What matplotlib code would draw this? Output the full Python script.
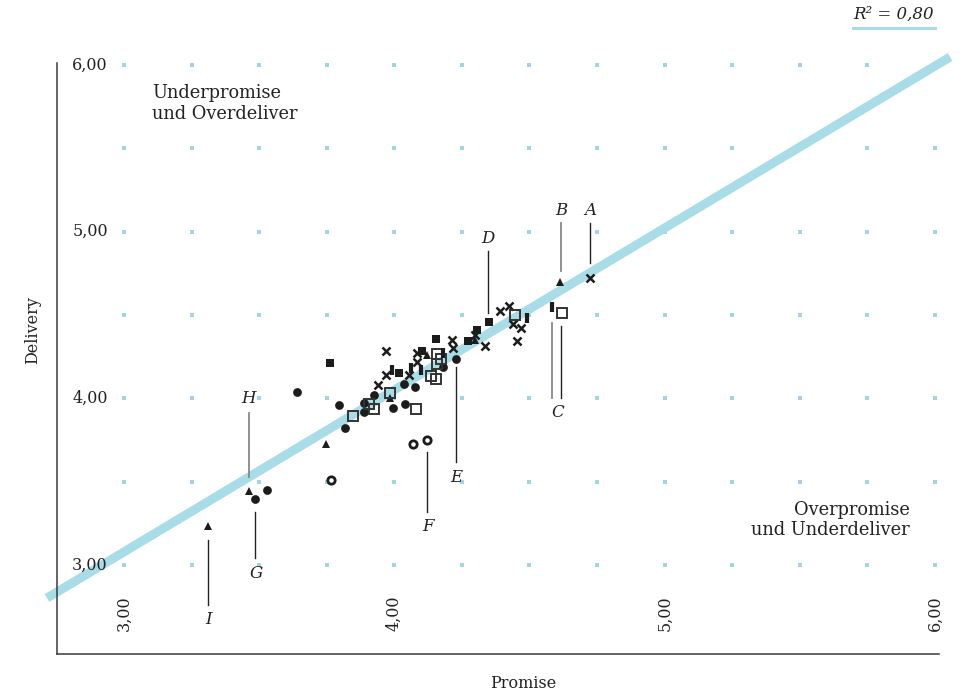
import matplotlib
matplotlib.use("Agg")
import matplotlib.pyplot as plt
import numpy as np
from matplotlib.lines import Line2D

# --- data (promise, delivery) per marker group ---
circle_x = [3.641, 3.795, 3.818, 3.887, 3.887, 3.924, 3.996, 4.041, 4.037, 4.077, 4.181, 4.228, 3.486, 3.529]
circle_y = [4.036, 3.962, 3.822, 3.970, 3.918, 4.022, 3.940, 3.968, 4.086, 4.070, 4.190, 4.239, 3.394, 3.448]

square_x = [3.762, 4.017, 4.104, 4.154, 4.274, 4.305, 4.350]
square_y = [4.210, 4.154, 4.286, 4.356, 4.344, 4.410, 4.460]

triangle_x = [3.747, 3.983, 4.120, 4.300, 4.614, 3.462, 3.311]
triangle_y = [3.724, 4.002, 4.260, 4.350, 4.700, 3.446, 3.234]

cross_x = [3.968, 3.939, 3.968, 4.054, 4.083, 4.083, 4.215, 4.218, 4.299, 4.334,
           4.391, 4.424, 4.438, 4.469, 4.453, 4.725]
cross_y = [4.286, 4.080, 4.140, 4.140, 4.220, 4.270, 4.350, 4.300, 4.380, 4.312,
           4.526, 4.555, 4.446, 4.422, 4.346, 4.724]

open_sq_x = [3.847, 3.908, 3.926, 3.985, 4.080, 4.156, 4.159, 4.173, 4.137, 4.154, 4.445, 4.619]
open_sq_y = [3.892, 3.966, 3.934, 4.030, 3.934, 4.269, 4.204, 4.239, 4.137, 4.119, 4.498, 4.512]

bar_x = [3.993, 4.060, 4.098, 4.180, 4.492, 4.585]
bar_y = [4.170, 4.180, 4.170, 4.270, 4.485, 4.550]

ring_x = [3.766, 4.068, 4.122]
ring_y = [3.510, 3.726, 3.750]

# regression line
fit_slope = 0.9716
fit_intercept = 0.164
fit_x = [2.715, 6.056]
r2_text = "R² = 0,80"

# labelled companies: name, label position, leader line (x, y0, y1), gray?
labels = ["A", "B", "D", "E", "F", "G", "H", "I"]
label_x = [4.724, 4.617, 4.347, 4.228, 4.125, 3.488, 3.459, 3.311]
label_y = [5.13, 5.13, 4.962, 3.528, 3.234, 2.952, 4.002, 2.676]
lead_x = [4.724, 4.617, 4.347, 4.229, 4.122, 3.486, 3.462, 3.311]
lead_y0 = [5.052, 5.052, 4.884, 4.190, 3.680, 3.318, 3.914, 3.150]
lead_y1 = [4.812, 4.764, 4.512, 3.618, 3.320, 3.042, 3.526, 2.760]
lead_gray = [False, True, False, False, False, False, True, False]

x_ticks = [3, 4, 5, 6]
y_ticks = [3, 4, 5, 6]

BLUE = "#a8dce6"
DOT = "#9fd6e1"
INK = "#1c1c1c"
TXT = "#222222"
FONT = "DejaVu Serif"

plt.rcParams["font.family"] = FONT

fig = plt.figure(figsize=(9.62, 6.92), dpi=100)
ax = fig.add_axes([57 / 962, 1 - 654 / 692, (939 - 57) / 962, (654 - 63) / 692])
ax.set_xlim(2.752, 6.015)
ax.set_ylim(2.466, 6.012)

for side in ["top", "right"]:
    ax.spines[side].set_visible(False)
for side in ["left", "bottom"]:
    ax.spines[side].set_color("#3a3a3a")
    ax.spines[side].set_linewidth(1.1)
ax.set_xticks([])
ax.set_yticks([])

# dotted grid
gx, gy = np.meshgrid(np.arange(3.0, 6.01, 0.25), np.arange(3.0, 6.01, 0.5))
ax.plot(gx.ravel(), gy.ravel(), "s", ms=2.2, color=DOT, mew=0, zorder=1)

# regression line
fx = np.array(fit_x)
ax.plot(fx, fit_intercept + fit_slope * fx, color=BLUE, lw=6.5,
        solid_capstyle="butt", clip_on=False, zorder=2)

# markers
ax.plot(circle_x, circle_y, "o", ms=6.3, color=INK, mew=0, zorder=4)
ax.plot(square_x, square_y, "s", ms=6.3, color=INK, mew=0, zorder=4)
ax.plot(triangle_x, triangle_y, "^", ms=6.3, color=INK, mew=0, zorder=4)
ax.plot(cross_x, cross_y, "x", ms=5.2, color=INK, mew=1.8, zorder=4)
ax.plot(open_sq_x, open_sq_y, "s", ms=6.5, mfc="none", mec="#333333", mew=1.4, zorder=4)
ax.plot(bar_x, bar_y, "|", ms=7.5, color=INK, mew=3.0, zorder=4)
ax.plot(ring_x, ring_y, "o", ms=5.3, mfc="white", mec=INK, mew=2.0, zorder=4)

# annotations
for name, tx, ty, lx, y0, y1, gray in zip(labels, label_x, label_y, lead_x,
                                          lead_y0, lead_y1, lead_gray):
    ax.text(tx, ty, name, ha="center", va="center", fontsize=12,
            style="italic", color=TXT)
    ax.plot([lx, lx], [y0, y1], color="#888888" if gray else "#222222",
            lw=1.3 if gray else 1.0, zorder=3)

# C has two leader lines
ax.text(4.606, 3.918, "C", ha="center", va="center", fontsize=12,
        style="italic", color=TXT)
ax.plot([4.585, 4.585], [4.454, 4.002], color="#888888", lw=1.3, zorder=3)
ax.plot([4.618, 4.618], [4.436, 4.002], color="#222222", lw=1.0, zorder=3)

# tick labels drawn inside the axes
for v in y_ticks:
    ax.text(2.94, v, f"{v},00", ha="right", va="center", fontsize=11.5, color=TXT)
for v in x_ticks:
    ax.text(v, 2.712, f"{v},00", ha="center", va="center", fontsize=11.5,
            rotation=90, color=TXT)

# quadrant notes
ax.text(3.103, 5.769, "Underpromise\nund Overdeliver", ha="left", va="center",
        fontsize=12.8, linespacing=1.2, color=TXT)
ax.text(5.908, 3.27, "Overpromise\nund Underdeliver", ha="right", va="center",
        fontsize=12.8, linespacing=1.2, color=TXT, multialignment="right")

# axis labels
fig.text(33 / 962, 1 - 330 / 692, "Delivery", rotation=90, ha="center", va="center",
         fontsize=11.5, color=TXT)
fig.text(523 / 962, 1 - 683 / 692, "Promise", ha="center", va="center",
         fontsize=11.5, color=TXT)

# R² note with underline
fig.text(894 / 962, 1 - 14 / 692, r2_text, ha="center", va="center",
         fontsize=12, style="italic", color=TXT)
fig.add_artist(Line2D([853 / 962, 935 / 962], [1 - 28 / 692, 1 - 28 / 692],
                      color=BLUE, lw=2.2, transform=fig.transFigure))

fig.savefig("out.png", dpi=100)
plt.close(fig)
